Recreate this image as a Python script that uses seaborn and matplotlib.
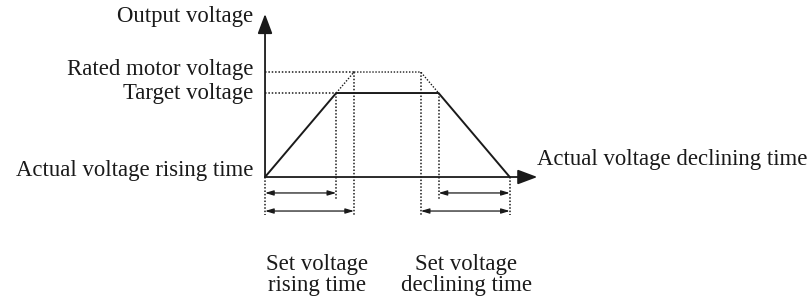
import numpy as np
import pandas as pd
import matplotlib
matplotlib.use("Agg")
import matplotlib.pyplot as plt
import seaborn as sns

# voltage levels (rated = 1)
rated_v = 1.0
target_v = 0.8
# time points (set rising time = 1)
rise_actual = 0.8
rise_set = 1.0
decl_start_rated = 1.75
decl_start_target = 1.95
t_end = 2.75

# solid curve: actual voltage
actual_t = [0.0, rise_actual, decl_start_target, t_end]
actual_v = [0.0, target_v, target_v, 0.0]
# dotted curve: rated motor voltage profile
rated_t = [rise_actual, rise_set, decl_start_rated, decl_start_target]
rated_v_pts = [target_v, rated_v, rated_v, target_v]

sns.set_style("white")
plt.rcParams['font.family'] = ['Liberation Serif', 'DejaVu Serif']

fig = plt.figure(figsize=(8.11, 2.99), dpi=100)
ax = fig.add_axes([0, 0, 1, 1])
ax.set_xlim(-2.978, 6.135)
ax.set_ylim(-1.162, 1.686)
ax.axis("off")

ink = "#1a1a1a"
fs = 16.4

# axes with arrow heads
ax.annotate("", xy=(3.06, 0), xytext=(0, 0),
            arrowprops=dict(arrowstyle="-|>,head_length=1.2,head_width=0.45",
                            color=ink, lw=1.3, shrinkA=0, shrinkB=0))
ax.annotate("", xy=(0, 1.553), xytext=(0, 0),
            arrowprops=dict(arrowstyle="-|>,head_length=1.2,head_width=0.45",
                            color=ink, lw=1.3, shrinkA=0, shrinkB=0))

df_actual = pd.DataFrame({"t": actual_t, "v": actual_v})
sns.lineplot(data=df_actual, x="t", y="v", ax=ax, color=ink, lw=1.4,
             sort=False, estimator=None)
df_rated = pd.DataFrame({"t": rated_t, "v": rated_v_pts})
sns.lineplot(data=df_rated, x="t", y="v", ax=ax, color=ink, lw=1.0,
             sort=False, estimator=None, linestyle=(0, (1, 1.2)))

dot = dict(color=ink, lw=1.1, linestyle=(0, (1, 1.2)))
# horizontal guide lines from the voltage axis
ax.plot([0, rise_set], [rated_v, rated_v], **dot)
ax.plot([0, rise_actual], [target_v, target_v], **dot)

# vertical guide lines
low_short = -0.21
low_long = -0.36
ax.plot([0, 0], [0, low_long], **dot)
ax.plot([rise_actual, rise_actual], [target_v, low_short], **dot)
ax.plot([rise_set, rise_set], [rated_v, low_long], **dot)
ax.plot([decl_start_rated, decl_start_rated], [rated_v, low_long], **dot)
ax.plot([decl_start_target, decl_start_target], [target_v, low_short], **dot)
ax.plot([t_end, t_end], [0, low_long], **dot)

# dimension arrows
row1 = -0.152
row2 = -0.324
dim = dict(arrowstyle="<|-|>,head_length=0.5,head_width=0.15", color=ink,
           lw=0.9, shrinkA=0, shrinkB=0)
for a, b, y in [(0, rise_actual, row1), (0, rise_set, row2),
                (decl_start_target, t_end, row1), (decl_start_rated, t_end, row2)]:
    ax.annotate("", xy=(b, y), xytext=(a, y), arrowprops=dim)

# labels
ax.text(-0.135, 1.53, "Output voltage", ha="right", va="center", fontsize=fs, color=ink)
ax.text(-0.135, 1.02, "Rated motor voltage", ha="right", va="center", fontsize=fs, color=ink)
ax.text(-0.135, 0.80, "Target voltage", ha="right", va="center", fontsize=fs, color=ink)
ax.text(-0.135, 0.06, "Actual voltage rising time", ha="right", va="center", fontsize=fs, color=ink)
ax.text(3.06, 0.165, "Actual voltage declining time", ha="left", va="center", fontsize=fs, color=ink)
ax.text(0.58, -0.93, "Set voltage\nrising time", ha="center", va="center",
        fontsize=fs, color=ink, linespacing=1.0)
ax.text(2.26, -0.93, "Set voltage\ndeclining time", ha="center", va="center",
        fontsize=fs, color=ink, linespacing=1.0)

fig.savefig("out.png", dpi=100)
